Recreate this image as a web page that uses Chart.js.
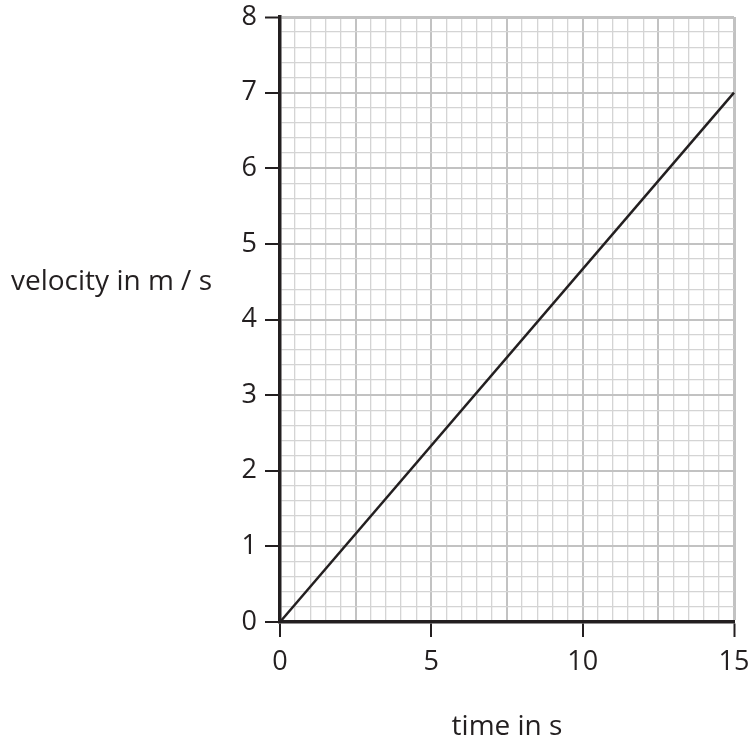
<!DOCTYPE html>
<html>
<head>
<meta charset="utf-8">
<script src="https://cdn.jsdelivr.net/npm/chart.js@4"></script>
<style>
  html, body { margin: 0; padding: 0; background: #ffffff; }
  #wrap { width: 752px; height: 745px; position: relative; }
</style>
</head>
<body>
<div id="wrap"><canvas id="c"></canvas></div>
<script>
const times = [0, 15];
const velocities = [0, 7];
const xTickLabels = [0, 5, 10, 15];
const yTickLabels = [0, 1, 2, 3, 4, 5, 6, 7, 8];
const xTitle = 'time in s';
const yTitle = 'velocity in m / s';

const INK = '#231f20';
const MAJOR = '#c2c2c2';
const MINOR = '#d4d4d4';
const FONT = 'Open Sans';

function r1(v) { return Math.round(v * 10) / 10; }

function zeroPad(scale) {
  scale.paddingTop = 0;
  scale.paddingBottom = 0;
  scale.paddingLeft = 0;
  scale.paddingRight = 0;
}

const yLabelPlugin = {
  id: 'yLabel',
  afterDraw(chart) {
    const ctx = chart.ctx;
    const y = chart.scales.y;
    ctx.save();
    ctx.font = '28px "' + FONT + '"';
    ctx.fillStyle = INK;
    ctx.textAlign = 'left';
    ctx.textBaseline = 'middle';
    ctx.fillText(yTitle, 11, y.getPixelForValue(4.5));
    ctx.restore();
  }
};

new Chart(document.getElementById('c'), {
  type: 'scatter',
  data: {
    datasets: [{
      data: times.map((t, i) => ({ x: t, y: velocities[i] })),
      showLine: true,
      borderColor: INK,
      borderWidth: 2.5,
      pointRadius: 0,
      fill: false,
      clip: false
    }]
  },
  options: {
    responsive: true,
    maintainAspectRatio: false,
    animation: false,
    layout: { padding: { left: 0, right: 18, top: 17, bottom: 0 } },
    plugins: { legend: { display: false }, tooltip: { enabled: false } },
    scales: {
      x: {
        type: 'linear',
        min: 0, max: 15,
        afterFit(scale) { scale.height = 123; zeroPad(scale); },
        border: { color: INK, width: 3.5 },
        grid: {
          drawTicks: true,
          tickLength: 15,
          color(ctx) {
            const v = r1(ctx.tick.value);
            return (Math.abs(v / 2.5 - Math.round(v / 2.5)) < 1e-6) ? MAJOR : MINOR;
          },
          lineWidth(ctx) {
            const v = r1(ctx.tick.value);
            if (v === 15) return 3;
            return (Math.abs(v / 2.5 - Math.round(v / 2.5)) < 1e-6) ? 2 : 1.3;
          },
          tickColor(ctx) {
            const v = r1(ctx.tick.value);
            return xTickLabels.includes(v) ? INK : 'rgba(0,0,0,0)';
          },
          tickWidth: 2
        },
        ticks: {
          stepSize: 0.5,
          autoSkip: false,
          maxRotation: 0,
          maxTicksLimit: 100,
          padding: 9,
          color: INK,
          font: { family: FONT, size: 27 },
          callback(value) {
            const v = r1(value);
            return xTickLabels.includes(v) ? String(v) : '';
          }
        },
        title: {
          display: true,
          text: xTitle,
          color: INK,
          font: { family: FONT, size: 28 },
          padding: { top: 0, bottom: 1 }
        }
      },
      y: {
        type: 'linear',
        min: 0, max: 8,
        afterFit(scale) { scale.width = 280; zeroPad(scale); },
        border: { color: INK, width: 3.5 },
        grid: {
          drawTicks: true,
          tickLength: 15,
          color(ctx) {
            const v = r1(ctx.tick.value);
            return Number.isInteger(v) ? MAJOR : MINOR;
          },
          lineWidth(ctx) {
            const v = r1(ctx.tick.value);
            if (v === 8) return 3;
            return Number.isInteger(v) ? 2 : 1.3;
          },
          tickColor(ctx) {
            const v = r1(ctx.tick.value);
            return yTickLabels.includes(v) ? INK : 'rgba(0,0,0,0)';
          },
          tickWidth: 2
        },
        ticks: {
          stepSize: 0.2,
          autoSkip: false,
          maxTicksLimit: 100,
          padding: 8,
          color: INK,
          font: { family: FONT, size: 27 },
          callback(value) {
            const v = r1(value);
            return yTickLabels.includes(v) ? String(v) : '';
          }
        }
      }
    }
  },
  plugins: [yLabelPlugin]
});
</script>
</body>
</html>
